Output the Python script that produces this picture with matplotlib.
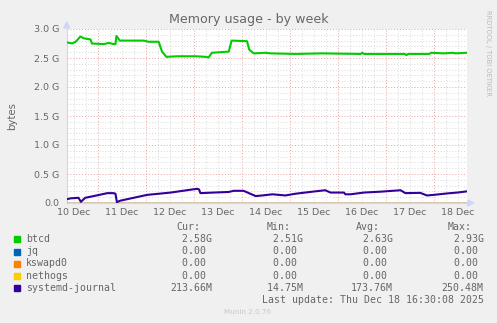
#!/usr/bin/env python
# Munin "Memory usage - by week" graph, redrawn with matplotlib

import matplotlib
matplotlib.use("Agg")
import matplotlib.pyplot as plt
import matplotlib.patches as mpatches
import numpy as np

#------------
# Data (x in days since 10 Dec 00:00, y in GB)
#------------
btcd_t = [0.354, 0.47, 0.54, 0.64, 0.71, 0.85, 0.88, 1.13, 1.23, 1.33, 1.37, 1.39,
          1.46, 1.96, 2.06, 2.27, 2.34, 2.43, 2.65, 3.04, 3.25, 3.31, 3.38, 3.73,
          3.79, 4.11, 4.16, 4.25, 4.50, 4.60, 5.12, 5.68, 6.48, 6.51, 6.55, 7.40,
          7.43, 7.47, 7.90, 7.95, 8.21, 8.40, 8.45, 8.6875]
btcd_v = [2.77, 2.75, 2.78, 2.87, 2.84, 2.82, 2.75, 2.74, 2.76, 2.74, 2.74, 2.88,
          2.80, 2.80, 2.78, 2.78, 2.61, 2.52, 2.53, 2.53, 2.52, 2.51, 2.59, 2.61,
          2.80, 2.79, 2.64, 2.58, 2.59, 2.58, 2.57, 2.58, 2.57, 2.59, 2.57, 2.57,
          2.55, 2.57, 2.57, 2.59, 2.58, 2.59, 2.58, 2.59]

journal_t = [0.354, 0.43, 0.60, 0.65, 0.74, 0.92, 1.20, 1.33, 1.37, 1.40, 1.47,
             2.03, 2.52, 3.07, 3.11, 3.14, 3.41, 3.73, 3.83, 4.04, 4.15, 4.29,
             4.43, 4.64, 4.91, 5.12, 5.47, 5.74, 5.85, 6.13, 6.16, 6.27, 6.54,
             6.89, 7.31, 7.41, 7.72, 7.86, 8.00, 8.28, 8.49, 8.6875]
journal_v = [0.064, 0.08, 0.09, 0.02, 0.09, 0.12, 0.17, 0.17, 0.16, 0.015, 0.04,
             0.14, 0.18, 0.245, 0.235, 0.17, 0.18, 0.19, 0.21, 0.21, 0.17, 0.12,
             0.13, 0.15, 0.13, 0.16, 0.195, 0.22, 0.18, 0.18, 0.15, 0.15, 0.18,
             0.195, 0.22, 0.17, 0.175, 0.13, 0.14, 0.165, 0.18, 0.20]

zero_t = [0.354, 8.6875]
zero_v = [0.0, 0.0]

day_labels = ["10 Dec", "11 Dec", "12 Dec", "13 Dec", "14 Dec",
              "15 Dec", "16 Dec", "17 Dec", "18 Dec"]
y_ticks = [0.0, 0.5, 1.0, 1.5, 2.0, 2.5, 3.0]
y_labels = ["0.0", "0.5 G", "1.0 G", "1.5 G", "2.0 G", "2.5 G", "3.0 G"]

legend_names = ["btcd", "jq", "kswapd0", "nethogs", "systemd-journal"]
legend_colors = ["#00CC00", "#0066B3", "#FF8000", "#FFCC00", "#330099"]
cur_vals = ["  2.58G", "  0.00 ", "  0.00 ", "  0.00 ", "213.66M"]
min_vals = ["  2.51G", "  0.00 ", "  0.00 ", "  0.00 ", " 14.75M"]
avg_vals = ["  2.63G", "  0.00 ", "  0.00 ", "  0.00 ", "173.76M"]
max_vals = ["  2.93G", "  0.00 ", "  0.00 ", "  0.00 ", "250.48M"]

#------------
# Figure
#------------
W, H = 497, 323
fig = plt.figure(figsize=(W / 100, H / 100), dpi=100, facecolor="#F0F0F0")

def fx(x):
    return x / W

def fy(y):
    return 1 - y / H

left, right, top, bottom = 66.7, 466.7, 29.0, 203.0
ax = fig.add_axes([fx(left), fy(bottom), (right - left) / W, (bottom - top) / H])
ax.set_facecolor("#FFFFFF")
xmin, xmax = 8.5 / 24, 208.5 / 24
ax.set_xlim(xmin, xmax)
ax.set_ylim(0, 3.0)

# grid, minor then major
dot = (0, (1, 2))
for x in np.arange(0.25, 9, 0.25):
    if xmin < x < xmax and x % 1 != 0:
        ax.axvline(x, color="#D8D8D8", lw=0.7, ls=dot, zorder=1)
for y in np.arange(0.1, 3.0, 0.1):
    if abs(y / 0.5 - round(y / 0.5)) > 1e-6:
        ax.axhline(y, color="#D8D8D8", lw=0.7, ls=dot, zorder=1)
for x in range(1, 9):
    ax.axvline(x, color="#EBA0A0", lw=0.7, ls=dot, zorder=1)
for y in y_ticks[1:]:
    ax.axhline(y, color="#EBA0A0", lw=0.7, ls=dot, zorder=1)

# series
ax.plot(btcd_t, btcd_v, color=legend_colors[0], lw=1.5, zorder=3)
ax.plot(zero_t, zero_v, color=legend_colors[1], lw=1.0, zorder=3)
ax.plot(zero_t, zero_v, color=legend_colors[2], lw=1.0, zorder=3)
ax.plot(zero_t, zero_v, color="#E8C070", lw=1.0, zorder=3)
ax.plot(journal_t, journal_v, color=legend_colors[4], lw=1.5, zorder=3)

for s in ["top", "right"]:
    ax.spines[s].set_visible(False)
ax.spines["left"].set_color("#CFD6F8")
ax.spines["bottom"].set_color("#CFD6F8")
ax.spines["left"].set_linewidth(0.8)
ax.spines["bottom"].set_linewidth(0.8)

ax.set_xticks(np.arange(0.5, 9.0, 1.0), day_labels)
ax.set_yticks(y_ticks, y_labels)
ax.tick_params(axis="both", length=0, labelsize=6.8, labelcolor="#666666")
ax.tick_params(axis="x", pad=3.5)
ax.tick_params(axis="y", pad=5.3)

# axis arrows
fig.patches.append(mpatches.Polygon(
    [(fx(left - 3), fy(top - 1)), (fx(left + 3), fy(top - 1)), (fx(left), fy(top - 7))],
    closed=True, transform=fig.transFigure, color="#CFD6F8", figure=fig))
fig.patches.append(mpatches.Polygon(
    [(fx(right + 1), fy(bottom - 3)), (fx(right + 1), fy(bottom + 3)), (fx(right + 7), fy(bottom))],
    closed=True, transform=fig.transFigure, color="#CFD6F8", figure=fig))

# texts
fig.text(fx(248.8), fy(19.3), "Memory usage - by week", ha="center", va="center",
         fontsize=9.1, color="#666666")
fig.text(fx(12), fy(116), "bytes", ha="center", va="center", rotation=90,
         fontsize=7.3, color="#666666")
fig.text(fx(487.7), fy(53), "RRDTOOL / TOBI OETIKER", ha="center", va="center",
         rotation=270, fontsize=4.9, color="#BBBBBB")

# legend
mono = dict(family="DejaVu Sans Mono", fontsize=7.1, color="#666666", va="center")
fig.text(fx(176.7), fy(227.3), "Cur:", **mono)
fig.text(fx(266.7), fy(227.3), "Min:", **mono)
fig.text(fx(356.0), fy(227.3), "Avg:", **mono)
fig.text(fx(447.3), fy(227.3), "Max:", **mono)
row_y = [239.3, 251.5, 263.5, 275.6, 287.8]
for i, name in enumerate(legend_names):
    y = row_y[i]
    fig.patches.append(mpatches.Rectangle((fx(14), fy(y + 3)), 6 / W, 6 / H,
                                          transform=fig.transFigure,
                                          color=legend_colors[i], figure=fig))
    fig.text(fx(26), fy(y), name, **mono)
    fig.text(fx(170.0), fy(y), cur_vals[i], **mono)
    fig.text(fx(260.6), fy(y), min_vals[i], **mono)
    fig.text(fx(351.0), fy(y), avg_vals[i], **mono)
    fig.text(fx(441.7), fy(y), max_vals[i], **mono)
fig.text(fx(261.7), fy(300), "Last update: Thu Dec 18 16:30:08 2025", **mono)
fig.text(fx(248), fy(311.7), "Munin 2.0.76", ha="center", va="center",
         fontsize=5.2, color="#C8C8C8")

fig.savefig("out.png", dpi=100, facecolor=fig.get_facecolor())
